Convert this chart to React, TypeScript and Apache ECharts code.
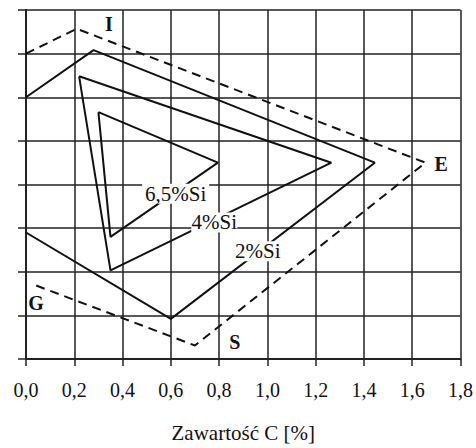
import React, { useEffect, useRef } from "react";
import * as echarts from "echarts";

// Carbon content axis (x) and an unlabelled vertical scale of 8 divisions
const xTicks = [0, 0.2, 0.4, 0.6, 0.8, 1.0, 1.2, 1.4, 1.6, 1.8];

// Outer dashed boundary I–E–S–G
const boundaryIESG: [number, number][] = [
  [0.0, 7.0],
  [0.21, 7.57],
  [1.655, 4.5],
  [0.70, 0.31],
  [0.02, 1.73],
];

// 2 % Si field (open on the left border)
const si2: [number, number][] = [
  [0.0, 6.0],
  [0.28, 7.08],
  [1.445, 4.5],
  [0.60, 0.92],
  [0.0, 2.9],
];

// 4 % Si field
const si4: [number, number][] = [
  [0.22, 6.48],
  [1.265, 4.5],
  [0.35, 2.03],
  [0.22, 6.48],
];

// 6.5 % Si field
const si65: [number, number][] = [
  [0.30, 5.66],
  [0.795, 4.5],
  [0.35, 2.8],
  [0.30, 5.66],
];

// Curve captions
const curveLabels: { name: string; value: [number, number] }[] = [
  { name: "6,5%Si", value: [0.62, 3.79] },
  { name: "4%Si", value: [0.78, 3.13] },
  { name: "2%Si", value: [0.96, 2.47] },
];

// Corner letters of the boundary
const cornerLabels: { name: string; value: [number, number] }[] = [
  { name: "I", value: [0.343, 7.69] },
  { name: "E", value: [1.72, 4.47] },
  { name: "G", value: [0.042, 1.29] },
  { name: "S", value: [0.865, 0.39] },
];

const SERIF = "'Liberation Serif', 'Times New Roman', serif";
const INK = "#111";

export default function App() {
  const ref = useRef<HTMLDivElement>(null);

  useEffect(() => {
    if (!ref.current) return;
    const chart = echarts.init(ref.current, undefined, { renderer: "svg" });

    const lineStyle = { color: INK, width: 2 };

    chart.setOption({
      animation: false,
      backgroundColor: "#fff",
      grid: { left: 26, right: 14, top: 10, bottom: 85 },
      xAxis: {
        type: "value",
        min: xTicks[0],
        max: xTicks[xTicks.length - 1],
        interval: 0.2,
        name: "Zawartość C [%]",
        nameLocation: "middle",
        nameGap: 63,
        nameTextStyle: { fontFamily: SERIF, fontSize: 21, color: INK },
        axisLine: { show: true, lineStyle: { color: "#222", width: 2 } },
        axisTick: { show: true, length: 7, lineStyle: { color: "#222", width: 1.5 } },
        axisLabel: {
          margin: 21,
          fontFamily: SERIF,
          fontSize: 20,
          color: INK,
          formatter: (v: number) => v.toFixed(1).replace(".", ","),
        },
        splitLine: { show: true, lineStyle: { color: "#222", width: 1.5 } },
      },
      yAxis: {
        type: "value",
        min: 0,
        max: 8,
        interval: 1,
        axisLine: { show: true, lineStyle: { color: "#222", width: 2 } },
        axisTick: { show: true, length: 8, lineStyle: { color: "#222", width: 1.5 } },
        axisLabel: { show: false },
        splitLine: { show: true, lineStyle: { color: "#222", width: 1.5 } },
      },
      series: [
        {
          type: "line",
          data: boundaryIESG,
          symbol: "none",
          lineStyle: { ...lineStyle, type: [9, 6] },
        },
        { type: "line", data: si2, symbol: "none", lineStyle },
        { type: "line", data: si4, symbol: "none", lineStyle },
        { type: "line", data: si65, symbol: "none", lineStyle },
      ],
    });

    // Captions sit on white plates that interrupt the lines beneath them
    const toPx = (v: [number, number]) =>
      chart.convertToPixel({ gridIndex: 0 }, v) as number[];

    const captionEls = curveLabels.flatMap((c) => {
      const [px, py] = toPx(c.value);
      const w = c.name.length * 10.5 + 4;
      const h = 20;
      return [
        {
          type: "rect",
          z: 100,
          shape: { x: px - w / 2, y: py - h / 2, width: w, height: h },
          style: { fill: "#fff" },
        },
        {
          type: "text",
          z: 101,
          x: px,
          y: py,
          style: {
            text: c.name,
            x: 0,
            y: 0,
            align: "center",
            verticalAlign: "middle",
            font: `21px ${SERIF}`,
            fill: INK,
          },
        },
      ];
    });

    const cornerEls = cornerLabels.map((c) => {
      const [px, py] = toPx(c.value);
      return {
        type: "text",
        x: px,
        y: py,
        z: 101,
        style: {
          text: c.name,
          x: 0,
          y: 0,
          align: "center",
          verticalAlign: "middle",
          font: `bold 20px ${SERIF}`,
          fill: INK,
        },
      };
    });

    chart.setOption({ graphic: [...captionEls, ...cornerEls] });

    return () => chart.dispose();
  }, []);

  return (
    <div
      ref={ref}
      style={{ position: "fixed", left: 0, top: 0, width: 476, height: 448 }}
    />
  );
}
